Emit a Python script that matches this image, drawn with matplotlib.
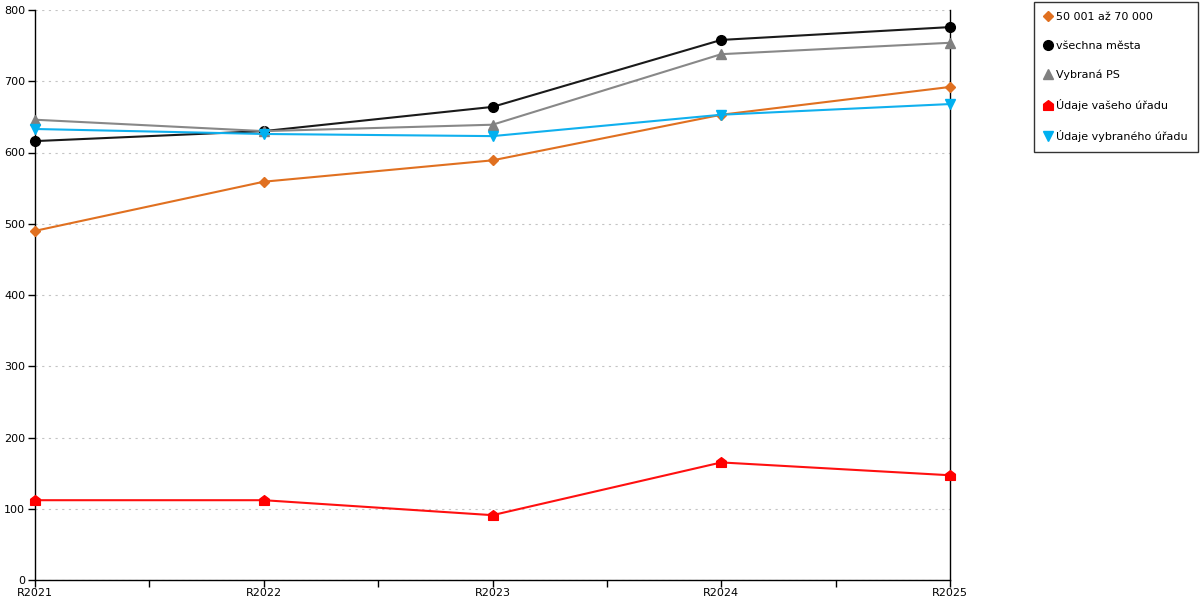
import numpy as np
import matplotlib.pyplot as plt
from matplotlib.path import Path
from matplotlib.lines import Line2D

# data
years = ['R2021', 'R2022', 'R2023', 'R2024', 'R2025']
mesta_50_70 = [490, 559, 589, 653, 692]
vsechna_mesta = [616, 630, 664, 758, 776]
vybrana_ps = [646, 630, 639, 738, 754]
vas_urad = [112, 112, 91, 165, 147]
vybrany_urad = [633, 626, 623, 653, 668]

labels = ['50 001 až 70 000', 'všechna města', 'Vybraná PS',
          'Údaje vašeho úřadu', 'Údaje vybraného úřadu']

# house shaped marker
house = Path([(-1, -1), (1, -1), (1, 0.25), (0, 1), (-1, 0.25), (-1, -1)],
             [Path.MOVETO, Path.LINETO, Path.LINETO, Path.LINETO, Path.LINETO, Path.CLOSEPOLY])

series = [
    (mesta_50_70, '#e07020', '#e07020', 'D', 5),
    (vsechna_mesta, '#1a1a1a', '#000000', 'o', 7),
    (vybrana_ps, '#888888', '#808080', '^', 7),
    (vas_urad, '#ff1010', '#ff0000', house, 7),
    (vybrany_urad, '#10b0ee', '#00b0f0', 'v', 7),
]

plt.rcParams['font.family'] = ['DejaVu Sans']
fig = plt.figure(figsize=(12, 6), dpi=100)
ax = fig.add_axes([35/1200, 20/600, 915/1200, 570/600])

x = np.arange(len(years))
handles = []
for (vals, lc, mc, mk, ms), lab in zip(series, labels):
    ax.plot(x, vals, color=lc, lw=1.5, marker=mk, markersize=ms,
            markerfacecolor=mc, markeredgecolor=mc, zorder=3, clip_on=False)
    handles.append(Line2D([], [], ls='none', marker=mk, markersize=ms,
                          markerfacecolor=mc, markeredgecolor=mc))

ax.set_xlim(0, len(years) - 1)
ax.set_ylim(0, 800)
ax.set_yticks(np.arange(0, 801, 100))
ax.set_xticks(x)
ax.set_xticklabels(years)
ax.set_xticks(np.arange(0.5, len(years) - 1, 1), minor=True)
ax.tick_params(axis='both', which='both', direction='out', length=5, width=1,
               labelsize=8, colors='black', pad=2)
ax.tick_params(axis='x', which='major', pad=1)
ax.yaxis.grid(True, ls=(0, (2, 4)), color='#c4c4c4', lw=0.8)
ax.set_axisbelow(True)
ax.spines['top'].set_visible(False)
for s in ['left', 'right', 'bottom']:
    ax.spines[s].set_linewidth(1)
    ax.spines[s].set_color('black')

leg = fig.legend(handles, labels, loc='upper left',
                 bbox_to_anchor=(1034/1200, 1 - 2/600), fontsize=8,
                 frameon=True, fancybox=False, edgecolor='black',
                 handlelength=0.7, handletextpad=0.4, labelspacing=1.7,
                 borderpad=0.9, borderaxespad=0)
leg.get_frame().set_linewidth(1)

plt.savefig('out.png', dpi=100)
